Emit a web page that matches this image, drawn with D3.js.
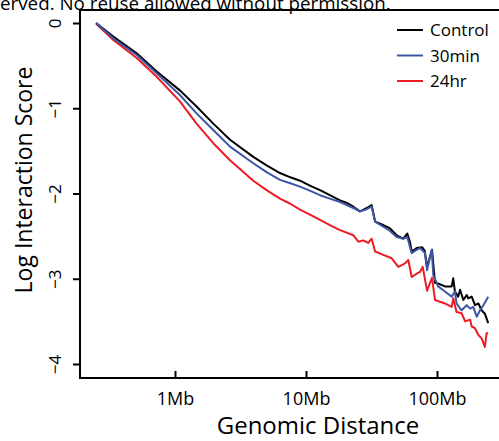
<!DOCTYPE html>
<html>
<head>
<meta charset="utf-8">
<script src="https://cdn.jsdelivr.net/npm/d3@7"></script>
<style>
  html, body { margin: 0; padding: 0; background: #fff; overflow: hidden; }
  svg { display: block; }
  text { font-family: "Open Sans", "Noto Sans", sans-serif; fill: #000; }
</style>
</head>
<body>
<svg id="chart" width="499" height="441"></svg>
<script>
// ---- data (distance in Mb, log interaction score) ----
const seriesNames = ["Control", "30min", "24hr"];
const seriesColors = ["#000000", "#3c56a6", "#ec1c24"];

const controlDist  = [0.25,0.338,0.51,0.725,1.09,1.46,1.96,2.63,3.96,5.0,6.33,7.6,9.0,10.8,12.8,15.2,18.2,20.5,23,25.8,27.5,29.1,31.7,33.7,38.9,43.8,49.2,55.3,59.3,62.2,64.1,70,76.8,80.5,83.9,91.6,96.6,99.5,115,129.5,133,137,145,150,159,168.5,173,184,195,207,219,232,246];
const controlScore = [0,-0.16,-0.355,-0.57,-0.79,-0.98,-1.18,-1.37,-1.57,-1.67,-1.76,-1.81,-1.85,-1.91,-1.96,-2.02,-2.08,-2.11,-2.155,-2.21,-2.19,-2.17,-2.135,-2.33,-2.37,-2.41,-2.49,-2.53,-2.47,-2.57,-2.68,-2.64,-2.63,-2.67,-2.86,-2.66,-3.05,-3.05,-3.09,-3.09,-2.995,-3.15,-3.21,-3.13,-3.25,-3.19,-3.23,-3.21,-3.31,-3.29,-3.37,-3.41,-3.52];

const min30Dist  = [0.25,0.338,0.51,0.725,1.09,1.46,1.96,2.63,3.96,5.0,6.33,7.6,9.0,10.8,12.8,15.2,18.2,23,25.8,28.5,31.7,33.7,38.9,43.8,49.2,55.3,59.3,64.1,70,74.2,81,83.9,91.1,93.7,102,115,129.5,137,141,154,168.5,179,189,201,213,226,246];
const min30Score = [0,-0.18,-0.375,-0.59,-0.845,-1.06,-1.255,-1.45,-1.645,-1.75,-1.84,-1.88,-1.92,-1.97,-2.02,-2.06,-2.10,-2.17,-2.21,-2.19,-2.155,-2.33,-2.39,-2.44,-2.51,-2.53,-2.51,-2.70,-2.66,-2.64,-2.70,-2.90,-2.66,-2.96,-3.09,-3.15,-3.21,-3.15,-3.29,-3.37,-3.31,-3.35,-3.33,-3.445,-3.37,-3.31,-3.21];

const hr24Dist  = [0.25,0.338,0.51,0.725,1.09,1.46,1.96,2.63,3.96,5.0,6.33,7.6,9.0,10.8,12.8,15.2,18.2,23,25.1,27.4,29.9,31.7,33.7,38.9,45.1,50.7,57,60.4,64.1,70,74.2,77.8,83.9,91.6,96.6,115,129.5,133,141,154,164,179,184,195,207,219,232,239,246];
const hr24Score = [-0.01,-0.2,-0.41,-0.63,-0.92,-1.18,-1.41,-1.61,-1.85,-1.96,-2.06,-2.12,-2.19,-2.25,-2.31,-2.37,-2.43,-2.49,-2.565,-2.55,-2.58,-2.53,-2.68,-2.72,-2.76,-2.86,-2.82,-2.78,-2.98,-2.94,-2.92,-2.86,-3.14,-2.99,-3.25,-3.29,-3.33,-3.23,-3.39,-3.405,-3.50,-3.48,-3.56,-3.58,-3.66,-3.70,-3.80,-3.64,-3.64];

const yTicks = [0, -1, -2, -3, -4];
const xTicks = [1, 10, 100];
const xTickLabels = ["1Mb", "10Mb", "100Mb"];

// ---- layout ----
const svg = d3.select("#chart");
const box = { left: 80, top: 10, right: 520, bottom: 378 };

const x = d3.scaleLog().domain([1, 100]).range([175, 437]);
const y = d3.scaleLinear().domain([0, -4]).range([23, 364]);

// copyright strip text (clipped at the top in the source image)
svg.append("text")
  .attr("x", 0).attr("y", 10)
  .attr("font-size", 18.8)
  .text("erved. No reuse allowed without permission.");

// series
const allSeries = [
  { name: seriesNames[0], color: seriesColors[0], dist: controlDist, score: controlScore },
  { name: seriesNames[1], color: seriesColors[1], dist: min30Dist, score: min30Score },
  { name: seriesNames[2], color: seriesColors[2], dist: hr24Dist, score: hr24Score }
];

const line = d3.line().x(d => x(d[0])).y(d => y(d[1]));

const drawOrder = [2, 0, 1];
drawOrder.forEach(i => {
  const s = allSeries[i];
  svg.append("path")
    .datum(d3.zip(s.dist, s.score))
    .attr("fill", "none")
    .attr("stroke", s.color)
    .attr("stroke-width", 2)
    .attr("stroke-linejoin", "round")
    .attr("d", line);
});

// frame (box clipped at right)
svg.append("rect")
  .attr("x", box.left).attr("y", box.top)
  .attr("width", box.right - box.left).attr("height", box.bottom - box.top)
  .attr("fill", "none").attr("stroke", "#000").attr("stroke-width", 2);

// y axis
const yAxis = d3.axisLeft(y).tickValues(yTicks).tickSize(7).tickFormat(d => d === 0 ? "0" : "\u2212" + Math.abs(d));
const gy = svg.append("g").attr("transform", `translate(${box.left},0)`).call(yAxis);
gy.select(".domain").remove();
gy.selectAll(".tick line").attr("stroke", "#000").attr("stroke-width", 2);
gy.selectAll(".tick text")
  .attr("font-size", 17)
  .attr("font-family", "'Open Sans', sans-serif")
  .attr("fill", "#000")
  .attr("x", 0).attr("dy", 0)
  .attr("text-anchor", "middle")
  .attr("transform", "translate(-18,0) rotate(-90)")
  .attr("y", -1);

// x axis
const xAxis = d3.axisBottom(x).tickValues(xTicks).tickSize(7).tickFormat((d, i) => xTickLabels[i]);
const gx = svg.append("g").attr("transform", `translate(0,${box.bottom})`).call(xAxis);
gx.select(".domain").remove();
gx.selectAll(".tick line").attr("stroke", "#000").attr("stroke-width", 2).attr("y1", -7).attr("y2", 0);
gx.selectAll(".tick text")
  .attr("font-size", 18)
  .attr("font-family", "'Open Sans', sans-serif")
  .attr("fill", "#000")
  .attr("y", 27).attr("dy", 0);

// axis titles
svg.append("text")
  .attr("x", 318).attr("y", 434)
  .attr("text-anchor", "middle")
  .attr("font-size", 24)
  .text("Genomic Distance");

svg.append("text")
  .attr("transform", "translate(32,180) rotate(-90)")
  .attr("text-anchor", "middle")
  .attr("font-size", 23)
  .text("Log Interaction Score");

// legend
const legend = svg.append("g");
allSeries.forEach((s, i) => {
  const ly = 30 + i * 25.5;
  legend.append("line")
    .attr("x1", 397).attr("x2", 423)
    .attr("y1", ly).attr("y2", ly)
    .attr("stroke", s.color).attr("stroke-width", 2);
  legend.append("text")
    .attr("x", 430).attr("y", ly + 6)
    .attr("font-size", 17)
    .text(s.name);
});
</script>
</body>
</html>
